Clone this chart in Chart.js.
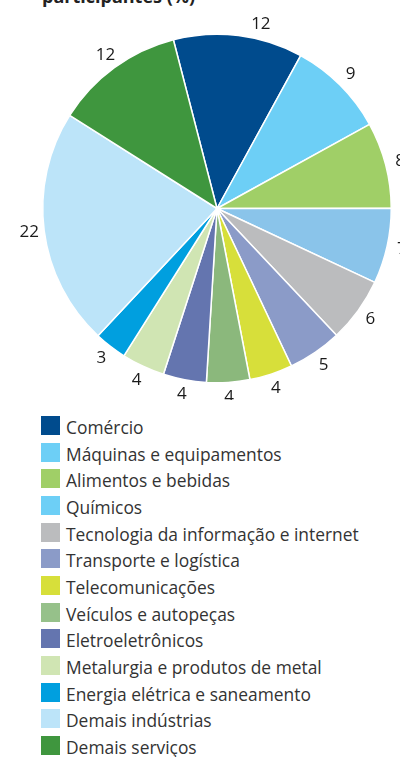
<!DOCTYPE html>
<html>
<head>
<meta charset="utf-8">
<script src="https://cdn.jsdelivr.net/npm/chart.js@4.4.1/dist/chart.umd.min.js"></script>
<style>
  html, body { margin: 0; padding: 0; background: #fff; }
  body { width: 401px; height: 757px; position: relative; overflow: hidden; font-family: "Open Sans", sans-serif; }
  #title { position: absolute; left: 42px; top: -16px; font-size: 18px; font-weight: bold; color: #222; white-space: nowrap; }
  #wrap { position: absolute; left: 0; top: 0; width: 401px; height: 400px; }
  #legend { position: absolute; left: 0; top: 0; width: 401px; }
  .item { position: absolute; left: 41px; height: 20px; white-space: nowrap; }
  .box { position: absolute; left: 0; top: 0; width: 19px; height: 19px; }
  .txt { position: absolute; left: 25px; top: -1px; font-size: 17.4px; color: #333; line-height: 25px; }
</style>
</head>
<body>
<div id="title">participantes (%)</div>
<div id="wrap"><canvas id="chart"></canvas></div>
<div id="legend"></div>
<script>
(function() {
	const categories = [
		'Comércio',
		'Máquinas e equipamentos',
		'Alimentos e bebidas',
		'Químicos',
		'Tecnologia da informação e internet',
		'Transporte e logística',
		'Telecomunicações',
		'Veículos e autopeças',
		'Eletroeletrônicos',
		'Metalurgia e produtos de metal',
		'Energia elétrica e saneamento',
		'Demais indústrias',
		'Demais serviços'
	];
	const shares = [12, 9, 8, 7, 6, 5, 4, 4, 4, 4, 3, 22, 12];

	const sliceColors = ['#004b8d', '#6dcff6', '#a0cf67', '#8ac4ea', '#bbbcbe', '#8b9bc8', '#d7df3a',
		'#8bb87c', '#6475af', '#d0e5b3', '#009fdf', '#bce4f9', '#3f963e'];
	// the legend swatch for Químicos is printed lighter than its slice
	const legendColors = sliceColors.slice();
	legendColors[3] = '#6dcff6';
	legendColors[7] = '#96c18a';

	const valueLabels = {
		id: 'valueLabels',
		afterDatasetsDraw(chart) {
			const ctx = chart.ctx;
			const meta = chart.getDatasetMeta(0);
			ctx.save();
			ctx.font = '17px "Open Sans", sans-serif';
			ctx.fillStyle = '#1a1a1a';
			ctx.textAlign = 'center';
			ctx.textBaseline = 'middle';
			meta.data.forEach((arc, i) => {
				let mid = (arc.startAngle + arc.endAngle) / 2;
				if (i === 0) mid += 0.11; // top label sits a little right of its slice middle
				const d = arc.outerRadius + 15;
				ctx.fillText(String(shares[i]), arc.x + Math.cos(mid) * d, arc.y + Math.sin(mid) * d);
			});
			ctx.restore();
		}
	};

	const ctx = document.getElementById('chart');
	const chart = new Chart(ctx, {
		type: 'pie',
		data: {
			labels: categories,
			datasets: [{
				data: shares,
				backgroundColor: sliceColors,
				borderColor: '#fff',
				borderWidth: 1.5
			}]
		},
		options: {
			responsive: false,
			animation: false,
			rotation: -14.5,
			layout: { padding: { left: 42, right: 8, top: 33, bottom: 16 } },
			plugins: {
				legend: { display: false },
				tooltip: { enabled: false }
			}
		},
		plugins: [valueLabels]
	});
	ctx.width = 401;
	ctx.height = 400;
	chart.resize(401, 400);

	const legendEl = document.getElementById('legend');
	categories.forEach((name, i) => {
		const row = document.createElement('div');
		row.className = 'item';
		row.style.top = (416 + i * 26.67) + 'px';
		row.innerHTML = `<span class="box" style="background:${legendColors[i]}"></span><span class="txt">${name}</span>`;
		legendEl.append(row);
	});
})();
</script>
</body>
</html>
